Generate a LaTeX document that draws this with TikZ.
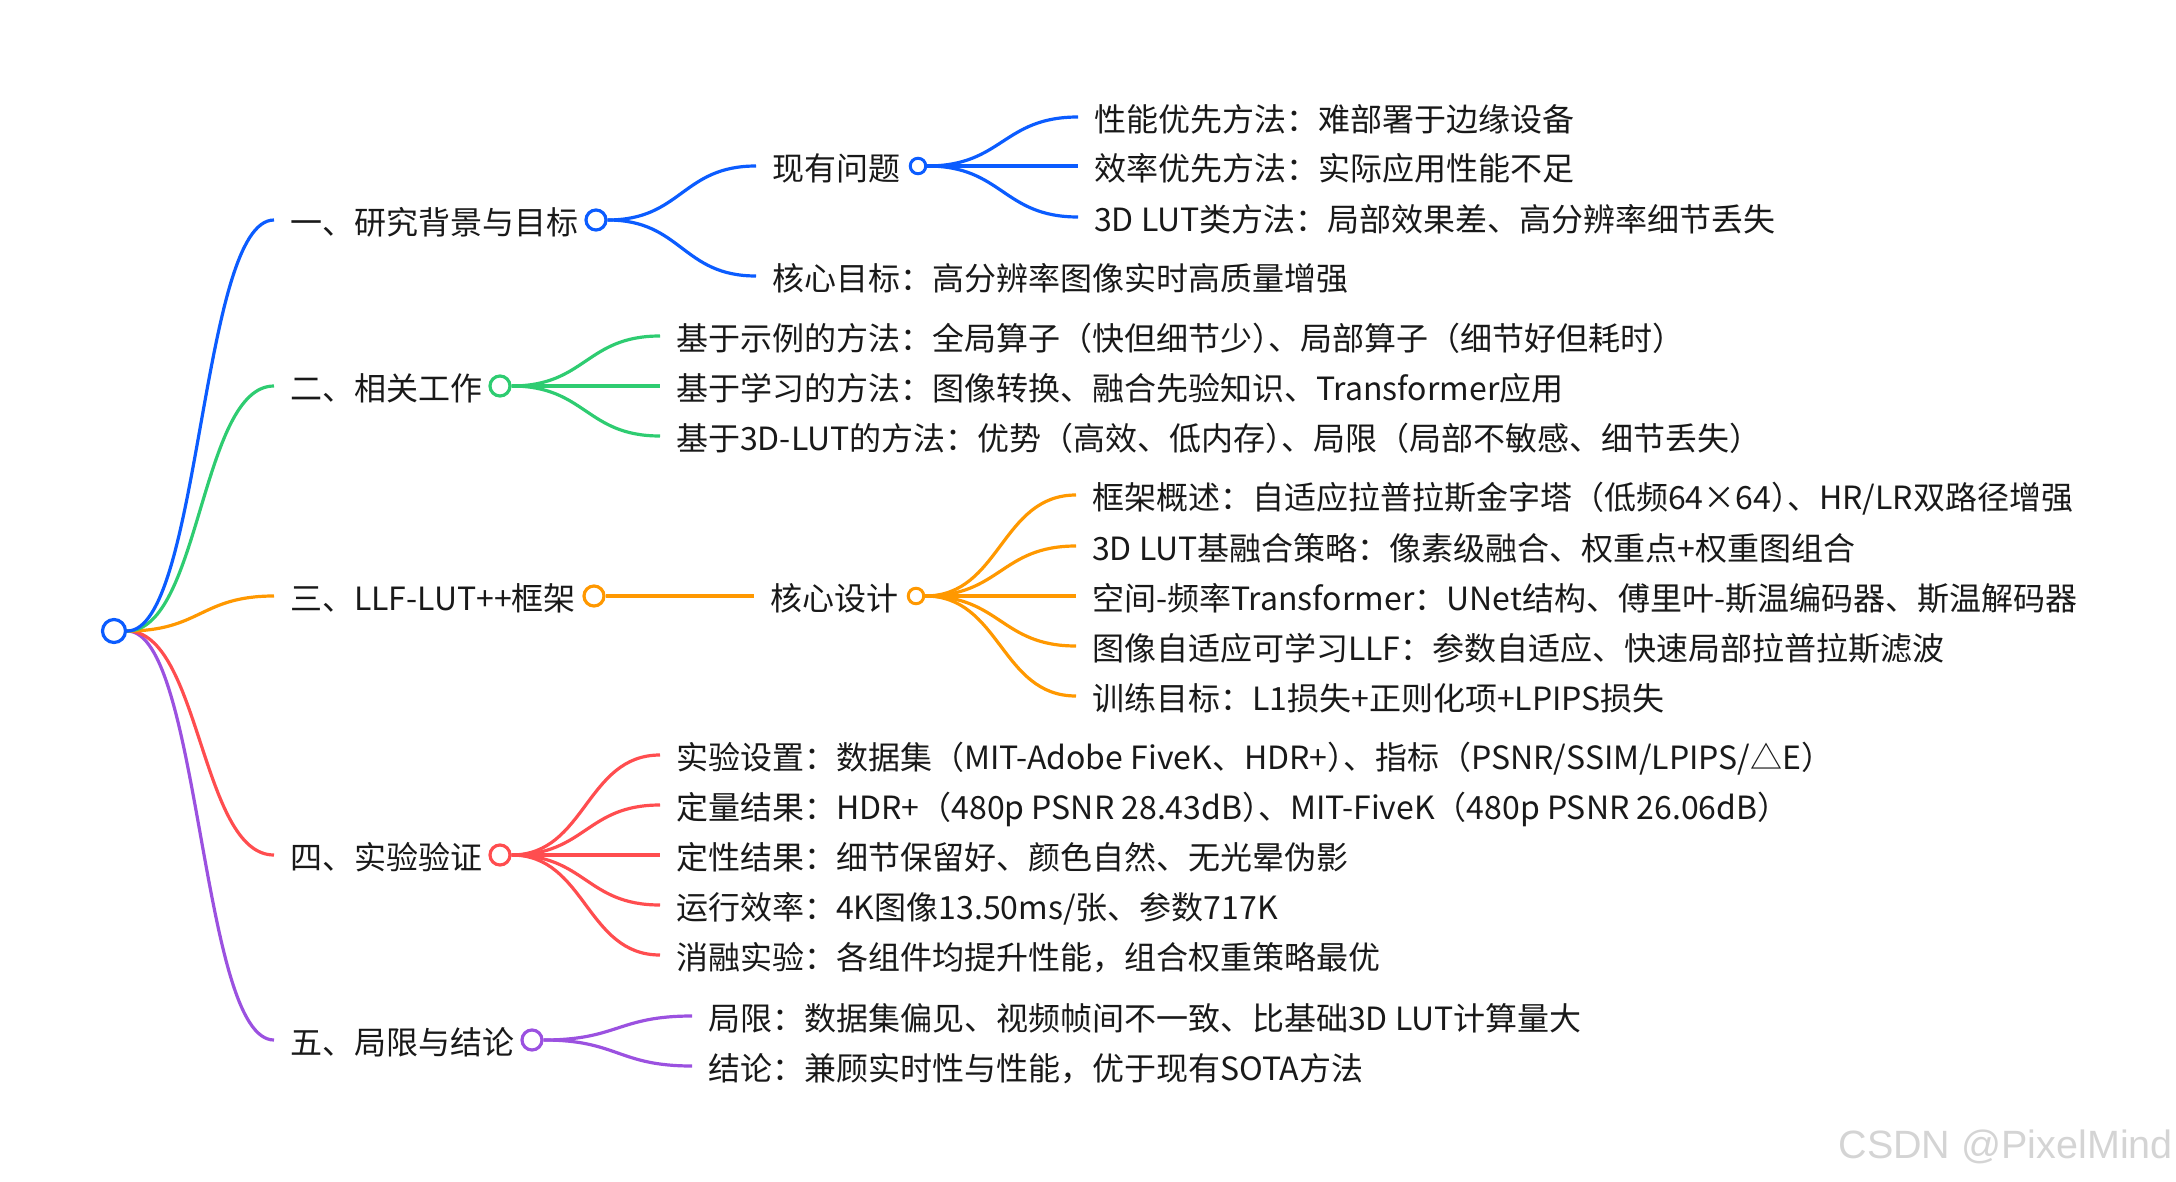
\documentclass[tikz,border=0pt]{standalone}
\usepackage{fontspec}
\setmainfont{Noto Sans CJK SC}
\newfontfamily\markfont{Liberation Sans}
\usetikzlibrary{calc}
\definecolor{cblue}{HTML}{0B5CFF}
\definecolor{cgreen}{HTML}{2ECC71}
\definecolor{corange}{HTML}{FF9800}
\definecolor{cred}{HTML}{FF4D4F}
\definecolor{cpurple}{HTML}{9B51E0}
\newcommand{\pk}{\kern-16pt}
\tikzset{
  label/.style={anchor=west,inner ysep=0pt,inner xsep=16pt,text=black!90,
    font=\fontsize{32}{38}\selectfont,text height=33pt,text depth=4pt},
  root/.style={circle,draw,line width=3.2pt,fill=white,inner sep=0pt,minimum size=23pt},
  hub/.style={circle,draw,line width=3.2pt,fill=white,inner sep=0pt,minimum size=20pt},
  subhub/.style={circle,draw,line width=3pt,fill=white,inner sep=0pt,minimum size=15.5pt},
  link/.style={line width=3.2pt,to path={let \p1=(\tikztostart),\p2=(\tikztotarget) in
    .. controls ({0.5*\x1+0.5*\x2},\y1) and ({0.5*\x1+0.5*\x2},\y2) .. (\tikztotarget)}},
}
\begin{document}
\begin{tikzpicture}[x=1pt,y=-1pt]
    \useasboundingbox (0,0) rectangle (2176,1182);

    \node[root,draw=cblue](r) at (114,631){};

    \node[label](s1) at (274,220){一、研究背景与目标};
    \node[label](s2) at (274,386){二、相关工作};
    \node[label](s3) at (274,596){三、LLF-LUT++框架};
    \node[label](s4) at (274,855){四、实验验证};
    \node[label](s5) at (274,1040){五、局限与结论};

    \node[hub,draw=cblue](h1) at (596,220){};
    \node[hub,draw=cgreen](h2) at (500,386){};
    \node[hub,draw=corange](h3) at (594,596){};
    \node[hub,draw=cred](h4) at (500,855){};
    \node[hub,draw=cpurple](h5) at (532,1040){};

    % first branch
    \node[label](a1) at (756,166){现有问题};
    \node[label](a2) at (756,276){核心目标：高分辨率图像实时高质量增强};
    \node[subhub,draw=cblue](ha) at (918,166){};
    \node[label](a11) at (1078,117){性能优先方法：难部署于边缘设备};
    \node[label](a12) at (1078,166){效率优先方法：实际应用性能不足};
    \node[label](a13) at (1078,217){3D LUT类方法：局部效果差、高分辨率细节丢失};

    % second branch
    \node[label](b1) at (660,336){基于示例的方法：全局算子（快但细节少）\pk、局部算子（细节好但耗时）};
    \node[label](b2) at (660,386){基于学习的方法：图像转换、融合先验知识、Transformer应用};
    \node[label](b3) at (660,436){基于3D-LUT的方法：优势（高效、低内存）\pk、局限（局部不敏感、细节丢失）};

    % third branch
    \node[label](c1) at (754,596){核心设计};
    \node[subhub,draw=corange](hc) at (916,596){};
    \node[label](c11) at (1076,495){框架概述：自适应拉普拉斯金字塔（低频64×64）\pk、HR/LR双路径增强};
    \node[label](c12) at (1076,546){3D LUT基融合策略：像素级融合、权重点+权重图组合};
    \node[label](c13) at (1076,596){空间-频率Transformer：UNet结构、傅里叶-斯温编码器、斯温解码器};
    \node[label](c14) at (1076,646){图像自适应可学习LLF：参数自适应、快速局部拉普拉斯滤波};
    \node[label](c15) at (1076,696){训练目标：L1损失+正则化项+LPIPS损失};

    % fourth branch
    \node[label](d1) at (660,755){实验设置：数据集（MIT-Adobe FiveK、HDR+）\pk、指标（PSNR/SSIM/LPIPS/△E）};
    \node[label](d2) at (660,805){定量结果：HDR+（480p PSNR 28.43dB）\pk、MIT-FiveK（480p PSNR 26.06dB）};
    \node[label](d3) at (660,855){定性结果：细节保留好、颜色自然、无光晕伪影};
    \node[label](d4) at (660,905){运行效率：4K图像13.50ms/张、参数717K};
    \node[label](d5) at (660,955){消融实验：各组件均提升性能，组合权重策略最优};

    % fifth branch
    \node[label](e1) at (692,1016){局限：数据集偏见、视频帧间不一致、比基础3D LUT计算量大};
    \node[label](e2) at (692,1066){结论：兼顾实时性与性能，优于现有SOTA方法};

    \draw[link,cpurple] (r.east) to (s5.west);
    \draw[link,cred] (r.east) to (s4.west);
    \draw[link,corange] (r.east) to (s3.west);
    \draw[link,cgreen] (r.east) to (s2.west);
    \draw[link,cblue] (r.east) to (s1.west);

    \draw[link,cblue] (h1.east) to (a1.west);
    \draw[link,cblue] (h1.east) to (a2.west);
    \draw[link,cblue] (ha.east) to (a11.west);
    \draw[link,cblue] (ha.east) to (a12.west);
    \draw[link,cblue] (ha.east) to (a13.west);

    \draw[link,cgreen] (h2.east) to (b1.west);
    \draw[link,cgreen] (h2.east) to (b2.west);
    \draw[link,cgreen] (h2.east) to (b3.west);

    \draw[link,corange] (h3.east) to (c1.west);
    \draw[link,corange] (hc.east) to (c11.west);
    \draw[link,corange] (hc.east) to (c12.west);
    \draw[link,corange] (hc.east) to (c13.west);
    \draw[link,corange] (hc.east) to (c14.west);
    \draw[link,corange] (hc.east) to (c15.west);

    \draw[link,cred] (h4.east) to (d1.west);
    \draw[link,cred] (h4.east) to (d2.west);
    \draw[link,cred] (h4.east) to (d3.west);
    \draw[link,cred] (h4.east) to (d4.west);
    \draw[link,cred] (h4.east) to (d5.west);

    \draw[link,cpurple] (h5.east) to (e1.west);
    \draw[link,cpurple] (h5.east) to (e2.west);

    \node[anchor=east,inner sep=0pt,text=black!17,font=\markfont\fontsize{39.5}{48}\selectfont](wm) at (2173,1147){CSDN @PixelMind};
\end{tikzpicture}
\end{document}
